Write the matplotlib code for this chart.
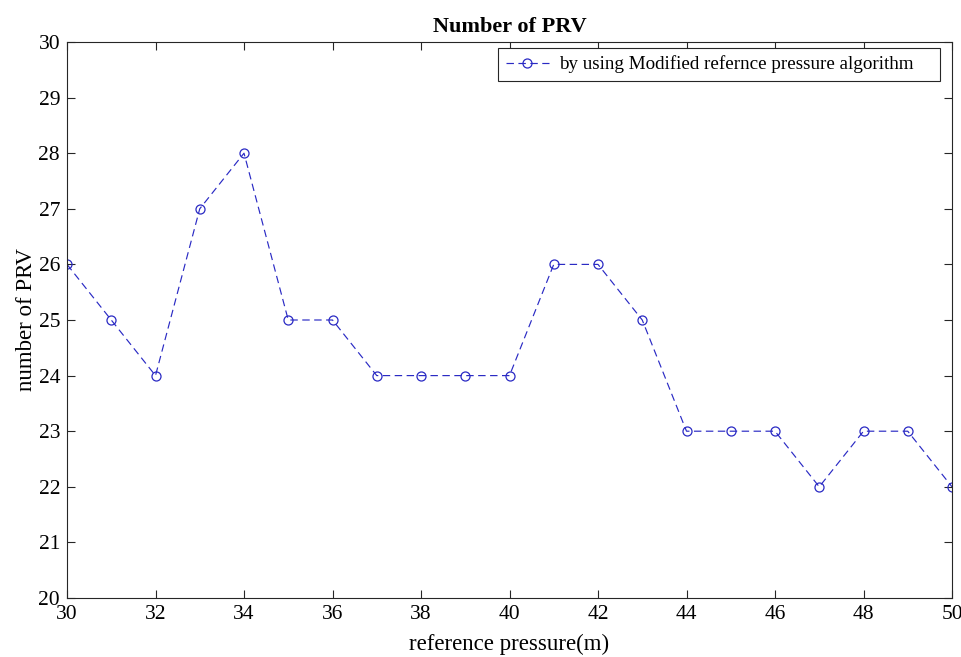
import matplotlib
matplotlib.use("Agg")
import matplotlib.pyplot as plt

x_vals = list(range(30, 51))
prv_counts = [26, 25, 24, 27, 28, 25, 25, 24, 24, 24, 24, 26, 26, 25, 23, 23, 23, 22, 23, 23, 22]
x_ticks = list(range(30, 51, 2))
y_ticks = list(range(20, 31))

plt.rcParams['font.family'] = ['Liberation Serif', 'DejaVu Serif']

fig = plt.figure(figsize=(9.61, 6.57), dpi=100)
ax = fig.add_axes([67/961, 1-598/657, (952-67)/961, (598-42)/657])

line_color = '#2a2ac4'
ax.plot(x_vals, prv_counts, linestyle=(0, (6.3, 3.8)), color=line_color, linewidth=0.85,
        marker='o', markersize=6.5, markerfacecolor='none', markeredgecolor=line_color,
        markeredgewidth=0.9, label='by using Modified refernce pressure algorithm    ')

ax.set_xlim(30, 50)
ax.set_ylim(20, 30)
ax.set_xticks(x_ticks)
ax.set_yticks(y_ticks)
ax.tick_params(direction='in', top=True, right=True, labelsize=15.5, length=6, width=0.8,
               colors='#262626', labelcolor='black', pad=5)
for s in ax.spines.values():
    s.set_linewidth(0.8)
    s.set_color('#262626')

ax.set_title('Number of PRV', fontsize=16, fontweight='bold', pad=7)
ax.set_xlabel('reference pressure(m)', fontsize=16.5, labelpad=7)
ax.set_ylabel('number of PRV', fontsize=16.5, labelpad=1)

leg = ax.legend(loc='upper right', fontsize=13.7, fancybox=False, framealpha=1,
                edgecolor='#262626', borderpad=0.4, handlelength=2.3, handletextpad=0.5,
                borderaxespad=0, bbox_to_anchor=(0.9864, 0.9892))
leg.get_frame().set_linewidth(0.8)

fig.savefig('out.png', dpi=100)
